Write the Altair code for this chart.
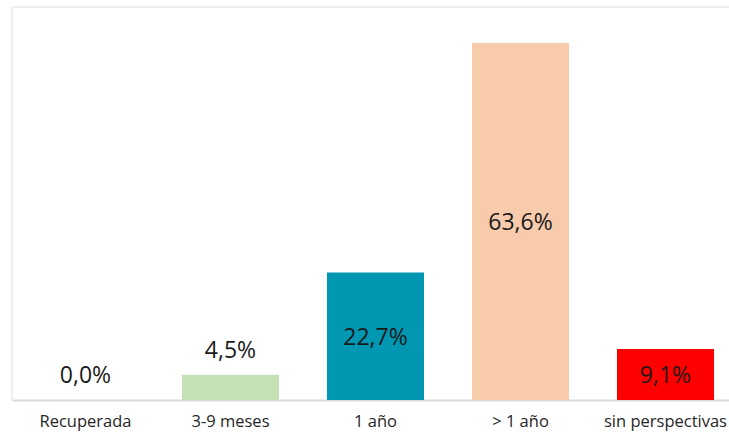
import altair as alt
import pandas as pd

# Categories, values (%) and bar colours
categories = ["Recuperada", "3-9 meses", "1 año", "> 1 año", "sin perspectivas"]
values = [0.0, 4.5, 22.7, 63.6, 9.1]
colors = ["#ffffff", "#c5e0b4", "#0097b2", "#f8cbad", "#ff0000"]

df = pd.DataFrame({"cat": categories, "v": values, "color": colors})

FONT = "Open Sans"
W, H = 717, 393

x = alt.X(
    "cat:N",
    sort=categories,
    scale=alt.Scale(range=[1, 726], paddingInner=0.331, paddingOuter=0.1655),
    axis=alt.Axis(
        title=None,
        labelAngle=0,
        labelFont=FONT,
        labelFontSize=16.5,
        labelColor="#262626",
        labelPadding=13,
        ticks=False,
        domainColor="#d9d9d9",
        domainWidth=2,
    ),
)
y = alt.Y("v:Q", scale=alt.Scale(domain=[0, 70]), axis=None)

base = alt.Chart(df)

bars = base.mark_bar().encode(x=x, y=y, color=alt.Color("color:N", scale=None))

label_expr = "replace(format(datum.v, '.1f'), '.', ',') + '%'"

# Small values get their label above the bar, the rest centred inside
above = (
    base.transform_filter("datum.v < 6")
    .transform_calculate(lbl=label_expr)
    .mark_text(font=FONT, fontSize=23, color="#1a1a1a", dy=-24, baseline="middle")
    .encode(x=x, y=y, text="lbl:N")
)
inside = (
    base.transform_filter("datum.v >= 6")
    .transform_calculate(lbl=label_expr, mid="datum.v / 2")
    .mark_text(font=FONT, fontSize=23, color="#1a1a1a", dy=1.5, baseline="middle")
    .encode(x=x, y=alt.Y("mid:Q", scale=alt.Scale(domain=[0, 70]), axis=None), text="lbl:N")
)

# Faint chart-area border on top and left
top_border = base.mark_rule(color="#eeeeee", strokeWidth=2).encode(
    x=alt.value(0), x2=alt.value(W + 20), y=alt.value(0)
)
left_border = base.mark_rule(color="#eeeeee", strokeWidth=2).encode(
    x=alt.value(0), y=alt.value(0), y2=alt.value(H)
)

chart = (
    alt.layer(top_border, left_border, bars, above, inside)
    .properties(
        width=W,
        height=H,
        autosize=alt.AutoSizeParams(type="none"),
        padding={"left": 12, "top": 7, "right": 0, "bottom": 34},
    )
    .configure_view(stroke=None)
    .configure(background="white")
)

chart.save("out.html", embed_options={"renderer": "svg", "actions": False})
